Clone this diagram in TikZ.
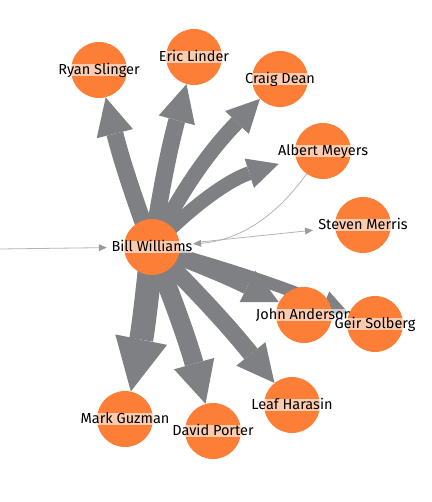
\documentclass[tikz,border=0pt]{standalone}
\usepackage{fontspec}
\setmainfont{Fira Sans}
\usetikzlibrary{arrows.meta,backgrounds}
\definecolor{nodeorange}{HTML}{FD7F37}
\definecolor{edgegray}{HTML}{7F8084}
\definecolor{thingray}{HTML}{B4B4B4}
\definecolor{tipgray}{HTML}{9A9A9C}

\begin{document}
\begin{tikzpicture}[x=1pt,y=-1pt,
    person/.style={circle,fill=nodeorange,minimum size=56pt,inner sep=0pt},
    lbl/.style={fill=white,fill opacity=0.6,text opacity=1,inner xsep=0pt,inner ysep=0pt,
        text height=10.5pt,text depth=2pt,font=\fontsize{14.5}{14.5}\selectfont},
    heavy/.style={draw=edgegray,bend left=3,
        -{Triangle[length=0pt 2.2,width=0pt 2.2,line width=0pt,fill=edgegray]}},
    light/.style={draw=thingray,line width=0.8pt,
        -{Triangle[length=8pt,width=7pt,line width=0pt,fill=tipgray]}}]
    \useasboundingbox (0,0) rectangle (431,502);
    \node[person,label={[lbl]center:Bill Williams}] (bw) at (152,247) {};
    \node[person,label={[lbl]center:Ryan Slinger}] (ryan) at (99,70) {};
    \node[person,label={[lbl]center:Eric Linder}] (eric) at (194,57) {};
    \node[person,label={[lbl]center:Craig Dean}] (craig) at (280,79) {};
    \node[person,label={[lbl]center:Albert Meyers}] (albert) at (323,151) {};
    \node[person,label={[lbl]center:Steven Merris}] (steven) at (363,225) {};
    \node[person,label={[lbl]center:John Anderson}] (john) at (304,315) {};
    \node[person,label={[lbl]center:Geir Solberg}] (geir) at (375,324) {};
    \node[person,label={[lbl]center:Leaf Harasin}] (leaf) at (292,405) {};
    \node[person,label={[lbl]center:Mark Guzman}] (mark) at (125,419) {};
    \node[person,label={[lbl]center:David Porter}] (david) at (213,431) {};
    \coordinate (in) at (0,249);
    \begin{scope}[on background layer]
    \draw[heavy,line width=17pt] (bw.center) to (ryan);
    \draw[heavy,line width=17pt] (bw.center) to (eric);
    \draw[heavy,line width=15pt,bend left=8] (bw.center) to (craig);
    \draw[heavy,line width=14pt,bend left=14,shorten >=18pt] (bw.center) to (albert);
    \draw[heavy,line width=16pt] (bw.center) to (john);
    \draw[heavy,line width=12pt] (bw.center) to (geir);
    \draw[heavy,line width=17pt] (bw.center) to (leaf);
    \draw[heavy,line width=19pt] (bw.center) to (david);
    \draw[heavy,line width=24pt] (bw.center) to (mark);
    \draw[light,shorten >=17pt] (in) -- (bw);
    \draw[light,shorten <=16pt,shorten >=22pt] (bw) -- (steven);
    \draw[light,bend left=25,shorten >=13pt] (albert) to (bw);
    \end{scope}
\end{tikzpicture}
\end{document}
